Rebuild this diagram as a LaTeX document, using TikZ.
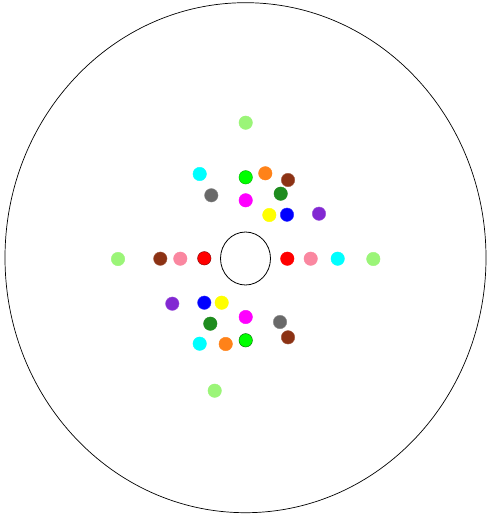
\documentclass[tikz,border=0pt]{standalone}
\usepackage{tikz}
\usetikzlibrary{shapes.geometric, positioning}

\definecolor{verdeclaro}{RGB}{155,245,120}
\definecolor{rosa}{RGB}{250,135,160}
\definecolor{marron}{RGB}{140,50,20}
\definecolor{morado}{RGB}{130,40,210}
\definecolor{verdeosc}{RGB}{30,140,30}
\definecolor{gris}{RGB}{105,105,105}
\definecolor{naranja}{RGB}{255,130,25}
\definecolor{cian}{RGB}{0,255,255}
\definecolor{fucsia}{RGB}{255,0,255}
\definecolor{verdevivo}{RGB}{0,255,0}
\definecolor{amarillo}{RGB}{255,255,0}
\definecolor{azul}{RGB}{0,0,255}
\definecolor{rojo}{RGB}{255,0,0}

\tikzset{punto/.style={circle, inner sep=0pt, minimum size=13.5pt, line width=0.4pt}}

\begin{document}
\begin{tikzpicture}[x=1pt, y=-1pt]
        \useasboundingbox (0,0) rectangle (487,516);

        % Disco exterior y agujero central
        \node[draw, ellipse, line width=0.7pt, minimum width=481pt, minimum height=510pt, inner sep=0pt] (disco) at (245.5,257.7) {};
        \node[draw, ellipse, line width=0.8pt, minimum width=50pt, minimum height=53pt, inner sep=0pt] (hueco) at (245.5,258.5) {};

        % Puntos superiores
        \node[punto, fill=verdeclaro, draw=verdeclaro] (s1) at (245.7,122.7) {};
        \node[punto, fill=cian, draw=cian] (s2) at (199.7,174) {};
        \node[punto, fill=verdevivo, draw=verdevivo!70!black] (s3) at (245.7,177.3) {};
        \node[punto, fill=naranja, draw=naranja] (s4) at (265.3,173.3) {};
        \node[punto, fill=marron, draw=marron!80!white] (s5) at (288,180) {};
        \node[punto, fill=gris, draw=gris!80!white] (s6) at (211.3,195.3) {};
        \node[punto, fill=verdeosc, draw=verdeosc] (s7) at (280.7,193.7) {};
        \node[punto, fill=fucsia, draw=fucsia] (s8) at (245.7,200.3) {};
        \node[punto, fill=amarillo, draw=amarillo] (s9) at (269.3,215) {};
        \node[punto, fill=azul, draw=azul!80!white] (s10) at (287,214.7) {};
        \node[punto, fill=morado, draw=morado!80!white] (s11) at (319,213.7) {};

        % Puntos en la linea central
        \node[punto, fill=verdeclaro, draw=verdeclaro] (c1) at (118,259) {};
        \node[punto, fill=marron, draw=marron!80!white] (c2) at (160.3,258.7) {};
        \node[punto, fill=rosa, draw=rosa] (c3) at (180.3,258.7) {};
        \node[punto, fill=rojo, draw=rojo!50!black] (c4) at (204.3,258.3) {};
        \node[punto, fill=rojo, draw=rojo] (c5) at (287.3,258.7) {};
        \node[punto, fill=rosa, draw=rosa] (c6) at (310.7,258.7) {};
        \node[punto, fill=cian, draw=cian] (c7) at (337.7,258.7) {};
        \node[punto, fill=verdeclaro, draw=verdeclaro] (c8) at (373.3,259) {};

        % Puntos inferiores
        \node[punto, fill=morado, draw=morado!80!white] (i1) at (172.3,303.7) {};
        \node[punto, fill=azul, draw=azul!80!white] (i2) at (204.3,302.7) {};
        \node[punto, fill=amarillo, draw=amarillo] (i3) at (221.7,302.7) {};
        \node[punto, fill=fucsia, draw=fucsia] (i4) at (245.7,317) {};
        \node[punto, fill=verdeosc, draw=verdeosc] (i5) at (210.3,323.7) {};
        \node[punto, fill=gris, draw=gris!80!white] (i6) at (280,322) {};
        \node[punto, fill=marron, draw=marron!80!white] (i7) at (288,337.3) {};
        \node[punto, fill=cian, draw=cian] (i8) at (199.7,343.7) {};
        \node[punto, fill=naranja, draw=naranja] (i9) at (225.7,344) {};
        \node[punto, fill=verdevivo, draw=verdevivo!40!black] (i10) at (245.7,340.3) {};
        \node[punto, fill=verdeclaro, draw=verdeclaro] (i11) at (214.7,390.7) {};

    \end{tikzpicture}
\end{document}
